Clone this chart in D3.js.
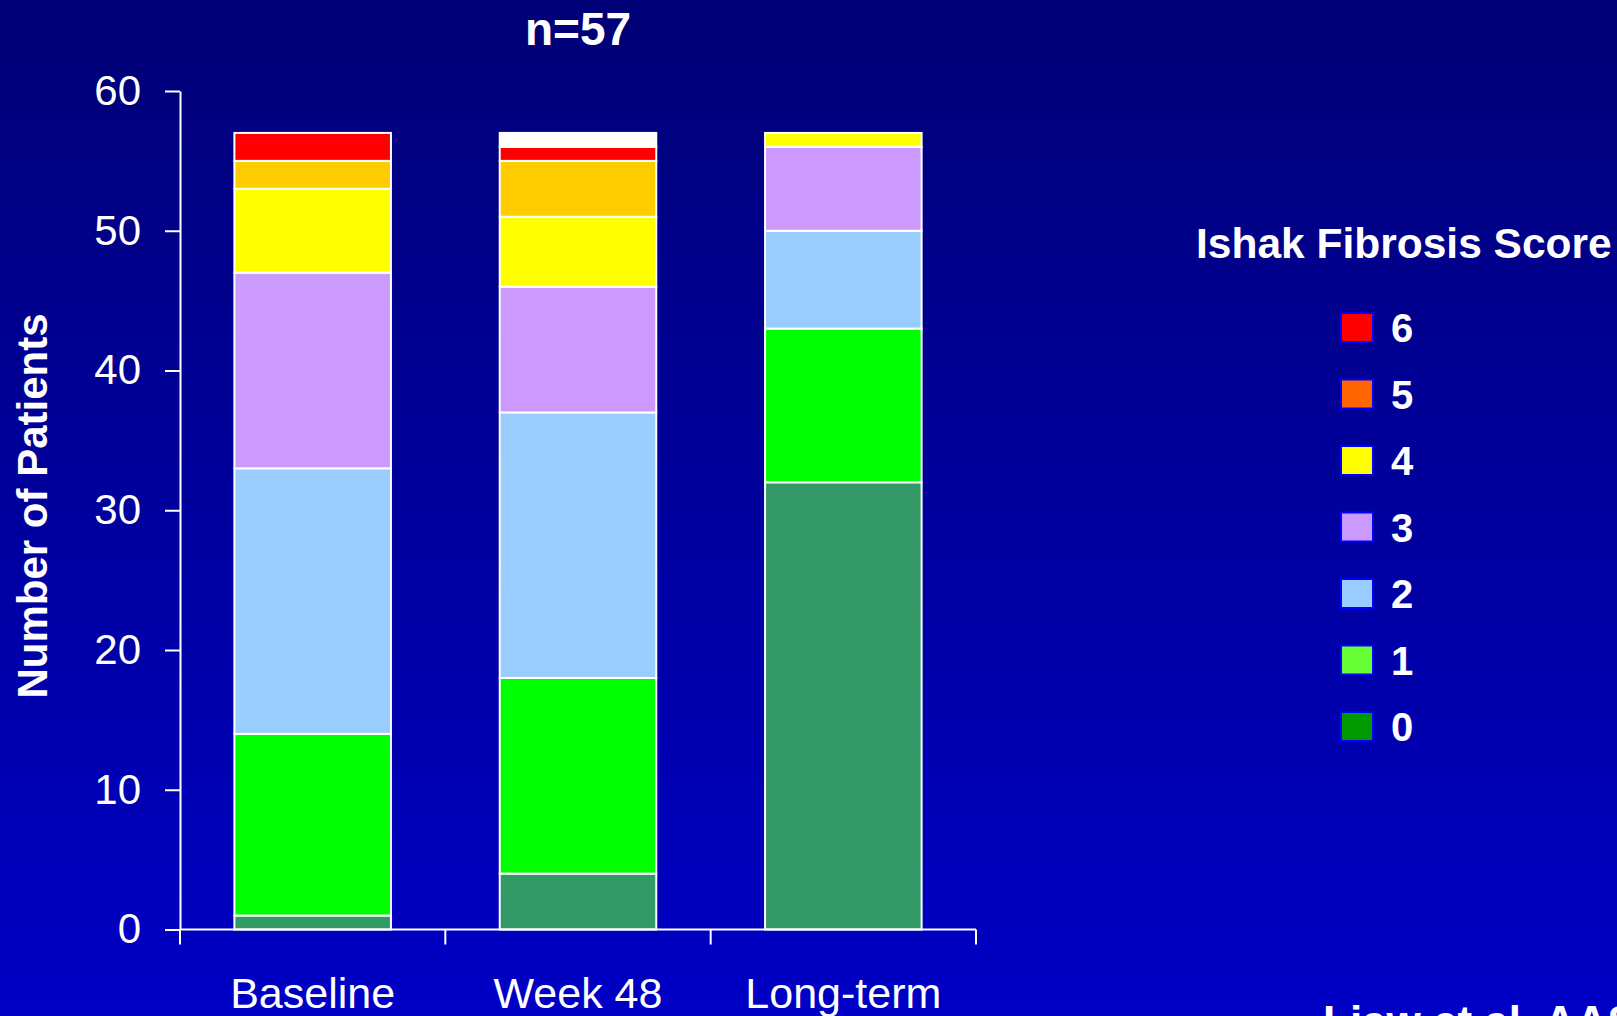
<!DOCTYPE html>
<html lang="en">
<head>
    <meta charset="UTF-8">
    <title>Ishak Fibrosis Score</title>
    <script src="https://d3js.org/d3.v7.min.js"></script>
    <style>
        html, body { margin: 0; padding: 0; overflow: hidden; }
        svg { display: block; font-family: "Liberation Sans", Arial, sans-serif; }
        .axis line, .axis path { stroke: #fff; stroke-width: 2px; }
        .axis text { fill: #fff; }
    </style>
</head>
<body>
    <svg width="1617" height="1016"></svg>
    <script>
        // values
        const periods = ["Baseline", "Week 48", "Long-term"];
        const scores = ["0", "1", "2", "3", "4", "5", "6"];
        const baseline = [1, 13, 19, 14, 6, 2, 2];
        const week48 = [4, 14, 19, 9, 5, 4, 1];
        const longTerm = [32, 11, 7, 6, 1, 0, 0];
        const notScored = [0, 1, 0];   // white cap on week 48
        const yTicks = [0, 10, 20, 30, 40, 50, 60];

        const barColors = ["#339966", "#00ff00", "#99ccff", "#cc99ff", "#ffff00", "#ffcc00", "#ff0000"];
        const legendColors = ["#009900", "#66ff33", "#99ccff", "#cc99ff", "#ffff00", "#ff6600", "#ff0000"];

        const rows = periods.map((p, i) => {
            const src = [baseline, week48, longTerm][i];
            const r = { period: p, na: notScored[i] };
            scores.forEach((s, j) => r[s] = src[j]);
            return r;
        });
        const keys = scores.concat(["na"]);
        const series = d3.stack().keys(keys)(rows);

        const svg = d3.select("svg");

        const defs = svg.append("defs");
        const grad = defs.append("linearGradient")
            .attr("id", "bg").attr("x1", 0).attr("y1", 0).attr("x2", 0).attr("y2", 1);
        grad.append("stop").attr("offset", "0%").attr("stop-color", "#000076");
        grad.append("stop").attr("offset", "100%").attr("stop-color", "#0000c6");
        svg.append("rect").attr("width", 1617).attr("height", 1016).attr("fill", "url(#bg)");

        const x = d3.scaleBand().domain(periods).range([180, 976]).padding(0);
        const y = d3.scaleLinear().domain([0, 60]).range([929.5, 91]);
        const barW = x.bandwidth() * 0.59;
        const color = d3.scaleOrdinal().domain(keys).range(barColors.concat(["#ffffff"]));

        // bars
        svg.append("g").selectAll("g")
            .data(series)
            .join("g")
            .attr("fill", d => color(d.key))
            .selectAll("rect")
            .data(d => d)
            .join("rect")
            .attr("x", d => x(d.data.period) + (x.bandwidth() - barW) / 2)
            .attr("y", d => y(d[1]))
            .attr("width", barW)
            .attr("height", d => y(d[0]) - y(d[1]))
            .attr("stroke", "#fff")
            .attr("stroke-width", 2)
            .style("display", d => d[1] - d[0] > 0 ? null : "none");

        // y axis
        const yAxis = svg.append("g")
            .attr("class", "axis")
            .attr("transform", "translate(180,0)")
            .call(d3.axisLeft(y).tickValues(yTicks).tickSize(15).tickSizeOuter(0).tickPadding(24));
        yAxis.selectAll("text").style("font-size", "42px");

        // x axis: ticks at the category boundaries
        const xAxis = svg.append("g")
            .attr("class", "axis")
            .attr("transform", "translate(0,929.5)");
        xAxis.append("line").attr("x1", 180).attr("x2", 976);
        xAxis.selectAll("line.tick")
            .data(periods.map(p => x(p)).concat([x.range()[1]]))
            .join("line")
            .attr("class", "tick")
            .attr("x1", d => d).attr("x2", d => d)
            .attr("y1", 0).attr("y2", 15);
        xAxis.selectAll("text")
            .data(periods)
            .join("text")
            .attr("x", d => x(d) + x.bandwidth() / 2)
            .attr("y", 78)
            .attr("text-anchor", "middle")
            .style("font-size", "43px")
            .text(d => d);

        // titles
        svg.append("text")
            .attr("x", x("Week 48") + x.bandwidth() / 2)
            .attr("y", 45)
            .attr("text-anchor", "middle")
            .attr("fill", "#fff")
            .style("font-size", "46px").style("font-weight", "bold")
            .text("n=57");

        svg.append("text")
            .attr("transform", "translate(47,506) rotate(-90)")
            .attr("text-anchor", "middle")
            .attr("fill", "#fff")
            .style("font-size", "42px").style("font-weight", "bold")
            .text("Number of Patients");

        // legend
        svg.append("text")
            .attr("x", 1196).attr("y", 258)
            .attr("fill", "#fff")
            .style("font-size", "42.5px").style("font-weight", "bold")
            .text("Ishak Fibrosis Score");

        const legend = svg.append("g").selectAll("g")
            .data(scores.slice().reverse())
            .join("g")
            .attr("transform", (d, i) => `translate(1341,${313 + i * 66.5})`);
        legend.append("rect")
            .attr("width", 32).attr("height", 29)
            .attr("fill", d => legendColors[scores.indexOf(d)])
            .attr("stroke", "#0000ff").attr("stroke-width", 2);
        legend.append("text")
            .attr("x", 50).attr("y", 29)
            .attr("fill", "#fff")
            .style("font-size", "40px").style("font-weight", "bold")
            .text(d => d);

        // source note, cut off by the bottom edge as on the slide
        svg.append("text")
            .attr("x", 1323).attr("y", 1037)
            .attr("fill", "#fff")
            .style("font-size", "44px").style("font-weight", "bold")
            .text("Liaw et al. AASLD 2008");
    </script>
</body>
</html>
